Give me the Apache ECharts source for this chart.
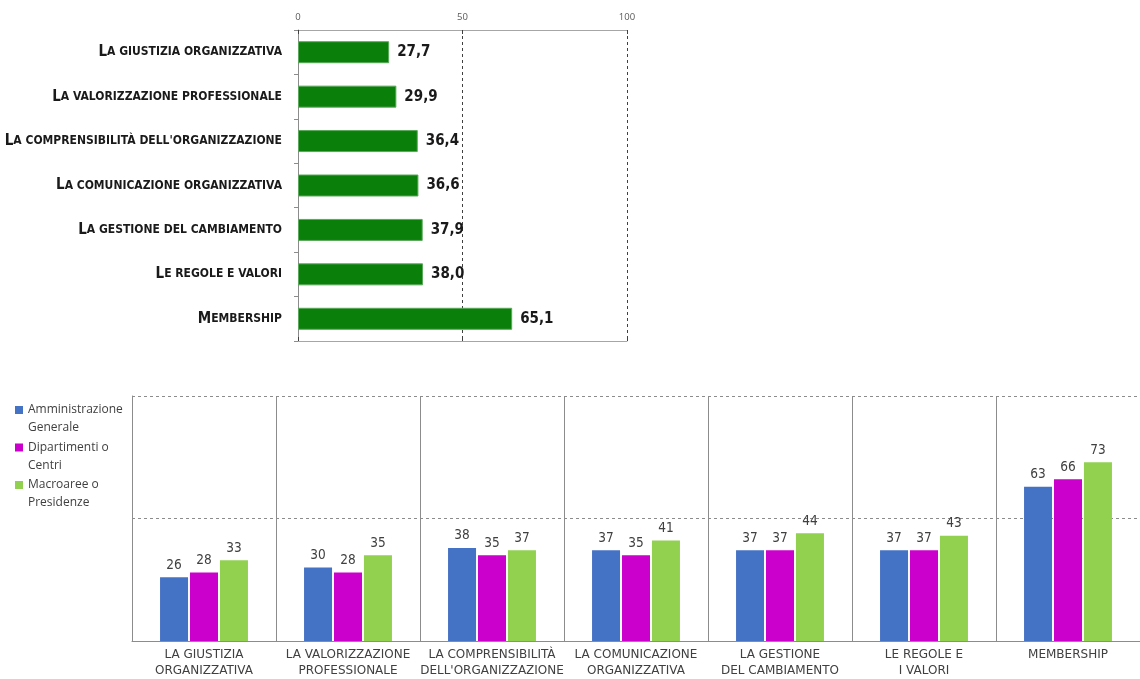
<!DOCTYPE html>
<html><head><meta charset="utf-8">
<script src="https://cdn.jsdelivr.net/npm/echarts@6/dist/echarts.min.js"></script>
<style>html,body{margin:0;padding:0;background:#fff}#c{width:1140px;height:679px}</style>
</head><body><div id="c"></div>
<script>
// Top chart: overall scores
const topCategories = ["La giustizia organizzativa","La valorizzazione professionale","La comprensibilità dell'organizzazione","La comunicazione organizzativa","La gestione del cambiamento","Le regole e valori","Membership"];
const topValues = [27.7, 29.9, 36.4, 36.6, 37.9, 38.0, 65.1];
const topTicks = [0, 50, 100];

// Bottom chart: by organisational area
const bottomCategories = ["LA GIUSTIZIA\nORGANIZZATIVA","LA VALORIZZAZIONE\nPROFESSIONALE","LA COMPRENSIBILITÀ\nDELL'ORGANIZZAZIONE","LA COMUNICAZIONE\nORGANIZZATIVA","LA GESTIONE\nDEL CAMBIAMENTO","LE REGOLE E\nI VALORI","MEMBERSHIP"];
const seriesNames = ["Amministrazione\nGenerale","Dipartimenti o\nCentri","Macroaree o\nPresidenze"];
const amministrazione = [26, 30, 38, 37, 37, 37, 63];
const dipartimenti = [28, 28, 35, 35, 37, 37, 66];
const macroaree = [33, 35, 37, 41, 44, 43, 73];

const chart = echarts.init(document.getElementById('c'), null, {renderer:'canvas'});
const narrow = "'Liberation Sans Narrow','DejaVu Sans Condensed',sans-serif";
const colors = ['#4472C4','#CC00CC','#92D050'];
const legendIcon = 'path://M0,5L8,5L8,13L0,13Z M0,0L0.05,0L0,0.05Z M0,36L0.05,36L0,35.95Z';

function smallCaps(v){
  return '{b|' + v.charAt(0).toUpperCase() + '}{s|' + v.slice(1).toUpperCase() + '}';
}

const bottomData = [amministrazione, dipartimenti, macroaree];

chart.setOption({
  animation:false,
  backgroundColor:'#fff',
  legend:{
    orient:'vertical', left:15, top:401, padding:0,
    itemWidth:8, itemHeight:36, itemGap:1.5,
    icon: legendIcon,
    textStyle:{fontFamily:'Open Sans', fontSize:12, color:'#404040', lineHeight:18},
    data: seriesNames.map(n=>({name:n, icon:legendIcon}))
  },
  grid:[
    {left:298, width:329, top:30, height:311},
    {left:132, right:0, top:396, bottom:36}
  ],
  xAxis:[
    {gridIndex:0, type:'value', position:'top', min:topTicks[0], max:topTicks[2], interval:topTicks[1],
     axisLine:{show:true, lineStyle:{color:'#a6a6a6'}},
     axisTick:{show:true, inside:true, length:4, lineStyle:{color:'#404040'}},
     axisLabel:{fontSize:9.5, color:'#595959', margin:8, fontFamily:'Open Sans'},
     splitLine:{show:true, lineStyle:{color:'#404040', type:[3,3], width:1}}
    },
    {gridIndex:1, type:'category', data:bottomCategories,
     axisLine:{lineStyle:{color:'#8c8c8c'}},
     axisTick:{show:false},
     axisLabel:{interval:0, fontFamily:'DejaVu Sans', fontSize:12, color:'#404040', lineHeight:16, margin:6},
     splitLine:{show:true, lineStyle:{color:'#8c8c8c', width:1}}
    },
    {gridIndex:0, type:'value', position:'bottom', min:topTicks[0], max:topTicks[2], interval:topTicks[1],
     axisLine:{show:true, lineStyle:{color:'#a6a6a6'}},
     axisTick:{show:true, inside:true, length:4, lineStyle:{color:'#404040'}},
     axisLabel:{show:false}, splitLine:{show:false}
    }
  ],
  yAxis:[
    {gridIndex:0, type:'category', data:topCategories, inverse:true,
     axisLine:{lineStyle:{color:'#8c8c8c'}},
     axisTick:{show:true, length:4, lineStyle:{color:'#8c8c8c'}},
     axisLabel:{margin:16, formatter:smallCaps, color:'#1a1a1a',
       rich:{b:{fontFamily:narrow, fontWeight:'bold', fontSize:15, color:'#1a1a1a'},
             s:{fontFamily:narrow, fontWeight:'bold', fontSize:12, color:'#1a1a1a'}}}
    },
    {gridIndex:1, type:'value', min:0, max:100, interval:50,
     axisLine:{show:true, lineStyle:{color:'#8c8c8c'}},
     axisTick:{show:false}, axisLabel:{show:false},
     splitLine:{show:true, lineStyle:{color:'#8c8c8c', type:[3,3]}}
    }
  ],
  series:[
    {type:'bar', xAxisIndex:0, yAxisIndex:0, data:topValues, barWidth:22,
     itemStyle:{color:'#0a7f0a', borderColor:'#5aa85a', borderWidth:1},
     label:{show:true, position:'right', distance:8, fontFamily:narrow, fontWeight:'bold', fontSize:15, color:'#1a1a1a',
       formatter:p=>p.value.toFixed(1).replace('.',',')}
    }
  ].concat(seriesNames.map((n,i)=>({
    type:'bar', name:n, xAxisIndex:1, yAxisIndex:1, data:bottomData[i], barWidth:28, barGap:'7%',
    itemStyle:{color:colors[i]},
    label:{show:true, position:'top', distance:5, fontFamily:narrow, fontSize:13.5, color:'#404040'}
  })))
});
</script></body></html>
